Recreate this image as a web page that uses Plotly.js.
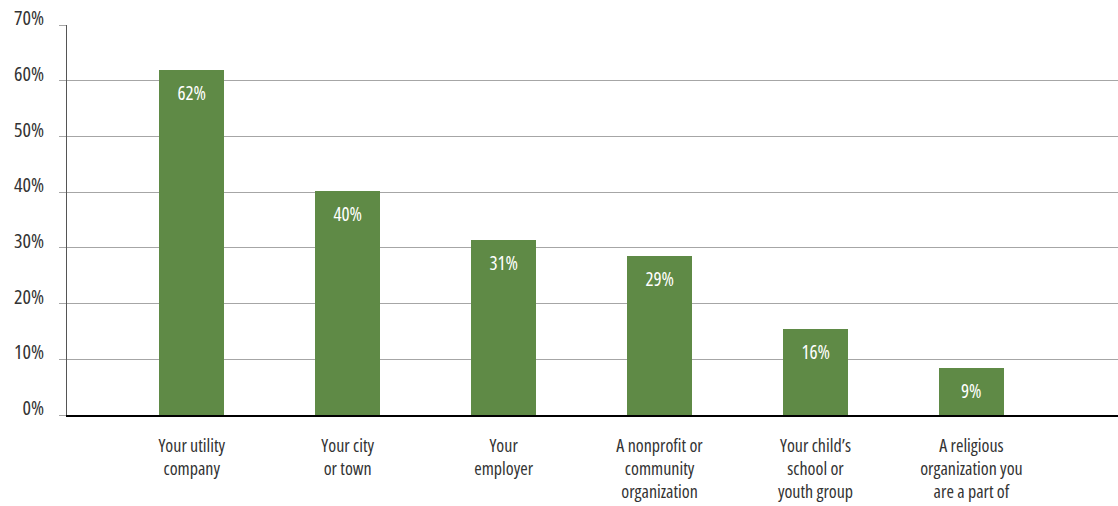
<!DOCTYPE html>
<html>
<head>
<meta charset="utf-8">
<script src="https://cdn.plot.ly/plotly-3.0.1.min.js"></script>
<style>
html,body{margin:0;padding:0;background:#fff;}
#chart{width:1118px;height:506px;}
#chart svg text{font-stretch:75% !important;font-weight:400 !important;}
</style>
</head>
<body>
<div id="chart"></div>
<script>
var categories = [
  "Your utility<br>company",
  "Your city<br>or town",
  "Your<br>employer",
  "A nonprofit or<br>community<br>organization",
  "Your child’s<br>school or<br>youth group",
  "A religious<br>organization you<br>are a part of"
];
var values = [62, 40.2, 31.5, 28.5, 15.4, 8.5];
var valueLabels = ["62%", "40%", "31%", "29%", "16%", "9%"];
var yTickVals = [0, 10, 20, 30, 40, 50, 60, 70];
var yTickText = ["0%", "10%", "20%", "30%", "40%", "50%", "60%", "70%"];

var FONT = "'Open Sans', 'DejaVu Sans', sans-serif";
var idx = categories.map(function(_, i){ return i; });

var trace = {
  type: "bar",
  x: idx,
  y: values,
  width: 0.42,
  marker: {color: "#5f8a46"},
  hoverinfo: "none"
};

var annotations = values.map(function(v, i){
  return {
    x: i, y: v, xref: "x", yref: "y",
    text: valueLabels[i],
    showarrow: false,
    yanchor: "top",
    yshift: -8,
    font: {family: FONT, size: 19, color: "#ffffff"}
  };
});

var layout = {
  width: 1118, height: 506,
  margin: {l: 67, r: 0, t: 25, b: 91, pad: 0},
  paper_bgcolor: "#ffffff",
  plot_bgcolor: "#ffffff",
  showlegend: false,
  font: {family: FONT, size: 18, color: "#333333"},
  bargap: 0,
  xaxis: {
    range: [-0.8, 5.94],
    tickmode: "array",
    tickvals: idx,
    ticktext: categories,
    showgrid: false,
    zeroline: false,
    showline: true,
    linecolor: "#000000",
    linewidth: 2,
    ticks: "",
    ticklabelstandoff: 13,
    tickfont: {family: FONT, size: 18, color: "#333333"},
    fixedrange: true
  },
  yaxis: {
    range: [0, 70.05],
    tickmode: "array",
    tickvals: yTickVals,
    ticktext: yTickText,
    showgrid: true,
    gridcolor: "#a6a6a6",
    gridwidth: 1,
    zeroline: false,
    showline: true,
    linecolor: "#555555",
    linewidth: 1,
    ticks: "outside",
    ticklen: 7,
    tickcolor: "#a6a6a6",
    tickwidth: 1,
    ticklabelstandoff: 11,
    ticklabelshift: -7,
    tickfont: {family: FONT, size: 20, color: "#333333"},
    fixedrange: true
  },
  annotations: annotations
};

Plotly.newPlot("chart", [trace], layout, {displayModeBar: false, staticPlot: true});
</script>
</body>
</html>
